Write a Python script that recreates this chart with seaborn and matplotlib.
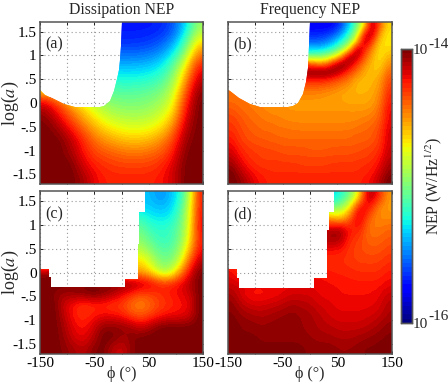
import numpy as np
import matplotlib
matplotlib.use("Agg")
import matplotlib.pyplot as plt
from matplotlib.path import Path
import seaborn as sns

sns.set_theme(style="ticks")
plt.rcParams['font.family'] = ['Liberation Serif', 'DejaVu Serif']
plt.rcParams['mathtext.fontset'] = 'stix'

# Readings: position on the colour scale, in percent (0 = 1e-16, 100 = 1e-14 W/Hz^1/2)
# rows run from high log(a) to low log(a); columns run from phi -150 to 150
panel_a = [
 [15,15,15,15,15,15,15,15,15,16,20,33,54],
 [17,17,17,17,17,17,17,17,18,20,26,42,66],
 [23,23,23,23,23,23,23,23,24,27,35,52,78],
 [31,31,31,31,31,31,31,31,32,35,45,64,88],
 [40,40,40,40,40,39,38,38,39,42,51,72,94],
 [70,62,55,48,46,45,45,45,46,49,57,80,98],
 [92,82,72,64,56,52,50,50,51,54,62,86,100],
 [98,90,80,71,64,58,56,55,56,60,68,90,100],
 [100,96,88,79,71,66,63,62,63,66,76,94,100],
 [100,100,94,86,78,74,71,70,71,75,83,97,100],
 [100,100,96,88,83,81,79,78,79,81,87,99,100],
 [100,100,100,91,87,85,84,84,84,86,91,100,100],
 [100,100,100,96,89,87,87,87,87,88,92,100,100],
]
panel_b = [
 [12,12,12,12,12,12,12,12,12,12,12,12,12,13,19,32,48,68,98,80,67],
 [16,16,16,16,16,16,16,16,16,16,16,16,17,20,28,40,57,90,96,72,66],
 [22,22,22,22,22,22,22,22,22,22,22,22,24,30,38,50,68,98,84,68,66],
 [33,33,33,33,33,33,33,33,33,33,33,33,36,42,52,66,98,88,76,66,68],
 [52,52,52,52,52,52,52,52,52,52,52,52,55,62,75,98,95,82,72,66,72],
 [85,85,85,85,85,85,85,85,85,85,85,80,80,92,100,95,85,76,70,68,76],
 [98,98,98,98,98,98,98,98,98,98,98,100,100,98,92,84,79,72,70,71,80],
 [88,88,88,88,88,88,88,88,88,88,88,88,87,84,81,78,72,71,71,74,83],
 [80,80,80,80,80,80,80,80,80,80,80,80,79,78,76,74,71,71,72,75,85],
 [78,78,78,78,76,76,76,76,76,76,76,76,75,74,73,72,72,72,73,77,87],
 [80,79,78,77,76,75,75,75,74,74,74,74,74,74,74,73,73,73,74,78,88],
 [82,80,79,78,77,76,76,75,75,75,75,75,75,75,75,75,75,75,76,80,90],
 [84,82,80,79,78,77,77,76,76,76,76,76,76,76,76,76,76,77,78,81,90],
 [85,83,81,80,79,79,78,78,77,77,77,77,77,77,77,77,78,79,80,83,91],
 [87,84,82,81,80,80,79,79,79,79,79,79,79,79,79,79,80,80,81,84,92],
 [89,85,83,82,82,81,81,80,80,80,80,80,80,80,80,80,81,81,82,85,92],
 [91,87,85,84,83,83,82,82,82,82,81,81,81,82,82,82,82,83,84,86,93],
 [94,89,86,85,84,84,84,83,83,83,83,83,83,83,83,83,84,84,85,88,94],
 [97,92,88,86,85,85,85,85,85,84,84,84,84,85,85,85,85,86,87,90,96],
 [100,95,91,88,87,86,86,86,86,86,86,86,86,86,86,86,86,87,88,92,98],
 [100,98,94,90,88,87,87,87,87,87,87,87,87,87,87,87,87,88,90,95,100],
]
panel_c = [
 [33,33,33,33,33,33,33,33,33,33,33,31,27,31,38,58,88],
 [33,33,33,33,33,33,33,33,33,33,33,33,31,33,42,62,88],
 [42,42,42,42,42,42,42,42,42,42,42,37,36,37,46,62,90],
 [48,48,48,48,48,48,48,48,48,48,48,42,40,42,48,64,90],
 [52,52,52,52,52,52,52,52,52,52,52,46,42,42,50,66,88],
 [58,58,58,58,58,58,58,58,58,58,58,52,46,46,54,72,90],
 [68,68,68,68,68,68,68,68,68,68,68,60,50,50,60,82,95],
 [98,100,98,90,80,75,72,72,72,72,74,68,58,58,75,90,100],
 [100,100,100,100,100,100,100,100,100,98,95,92,87,87,90,95,100],
 [100,98,96,97,98,100,98,95,90,86,82,84,86,88,90,92,100],
 [100,100,92,88,84,86,86,84,84,78,76,80,84,86,88,90,100],
 [100,100,94,88,86,88,90,90,88,84,82,85,88,90,90,92,100],
 [100,100,96,90,88,92,98,98,98,96,92,96,100,100,100,100,100],
 [100,100,97,92,90,94,100,100,96,98,100,100,100,100,100,100,100],
 [100,100,98,96,94,98,100,94,92,98,100,100,100,100,100,100,100],
]
panel_d = [
 [33,33,33,33,33,33,33,33,33,33,33,38,48,66,98,88,74],
 [50,50,50,50,50,50,50,50,50,50,50,52,64,92,90,76,74],
 [75,75,75,75,75,75,75,75,75,75,75,68,80,95,80,76,76],
 [95,95,95,95,95,95,95,95,95,95,95,98,88,88,78,78,80],
 [96,96,96,96,96,96,96,96,96,96,96,96,86,84,80,80,82],
 [88,88,88,88,88,88,88,88,88,88,88,88,85,83,82,82,84],
 [86,86,86,86,86,86,86,86,86,86,86,86,85,84,84,84,86],
 [90,82,88,88,88,88,88,88,88,88,88,87,87,86,86,86,88],
 [92,92,90,90,90,90,90,90,90,90,89,89,88,88,88,88,90],
 [96,90,88,88,89,90,92,92,92,90,90,89,89,89,89,90,93],
 [98,94,92,92,93,94,96,95,94,92,91,90,90,90,90,91,95],
 [99,97,96,95,96,97,98,97,96,94,92,91,91,91,92,93,96],
 [100,98,98,97,98,98,98,97,96,95,94,93,93,93,94,96,98],
 [100,99,99,98,98,98,98,98,97,96,96,95,95,96,97,98,99],
 [100,100,100,99,99,99,99,99,98,98,98,97,97,98,99,99,100],
]

# Edge of the unmeasured (white) region of each panel, read as (phi, log a)
edge_a = [(0,1.7),(-1,1.2),(-3,.9),(-5,.7),(-8,.5),(-14,.25),(-22,.05),(-32,-.06),(-40,-.08),
          (-85,-.08),(-105,-.03),(-125,.08),(-140,.16),(-150,.27)]
edge_b = [(0,1.7),(-1,1.2),(-3,.74),(-7,.45),(-12,.18),(-22,.0),(-32,-.07),(-40,-.09),
          (-91,-.09),(-110,-.03),(-130,.1),(-146,.25),(-150,.28)]
edge_c = [(43,1.7),(43,1.27),(33,1.27),(33,.6),(30,.6),(30,-.13),(6,-.13),(6,-.31),
          (-130,-.31),(-130,-.1),(-133,-.1),(-133,.08),(-150,.08)]
edge_d = [(43,1.7),(43,1.27),(35,1.27),(35,.89),(32,.89),(32,-.12),(7,-.12),(7,-.33),
          (-130,-.33),(-130,-.12),(-133,-.12),(-133,.07),(-150,.07)]

panel_names = ['(a)', '(b)', '(c)', '(d)']
titles = ['Dissipation NEP', 'Frequency NEP']
phi_ticks = [-150, -100, -50, 0, 50, 100, 150]
phi_labels = ['-150', '', '-50', '', '50', '', '150']
loga_ticks = [1.5, 1, .5, 0, -.5, -1, -1.5]
loga_labels = ['1.5', '1', '.5', '0', '-.5', '-1', '-1.5']
PHI = (-150, 150)
LOGA = (-1.7, 1.7)

W, H = 448, 386
fig = plt.figure(figsize=(W/100, H/100), dpi=100, facecolor='white')
def px_axes(x0, y0, x1, y1):
    return fig.add_axes([x0/W, 1-y1/H, (x1-x0)/W, (y1-y0)/H])

boxes = [(40,22,203,184), (228,22,392,184), (40,191,203,354), (228,191,392,354)]
cax = px_axes(401, 49, 412, 323)
jet = matplotlib.colormaps['jet'].resampled(64)
GREY = '#555555'

for i, (vals, edge, box) in enumerate(zip([panel_a, panel_b, panel_c, panel_d],
                                          [edge_a, edge_b, edge_c, edge_d], boxes)):
    ax = px_axes(*box)
    arr = -16 + 2*np.array(vals, dtype=float)/100
    ny, nx = arr.shape
    sx = lambda p: (np.asarray(p, float)-PHI[0])/(PHI[1]-PHI[0])*nx
    sy = lambda a: (LOGA[1]-np.asarray(a, float))/(LOGA[1]-LOGA[0])*ny
    sns.heatmap(arr, ax=ax, cmap=jet, vmin=-16, vmax=-14, cbar=(i == 0),
                cbar_ax=cax if i == 0 else None, xticklabels=False, yticklabels=False)
    img = ax.imshow(arr, cmap=jet, vmin=-16, vmax=-14, extent=(0, nx, ny, 0), aspect='auto',
                    interpolation='bicubic', interpolation_stage='data', zorder=2)
    ax.set_xlim(0, nx); ax.set_ylim(ny, 0)
    outline = list(edge) + [(PHI[0], LOGA[0]), (PHI[1], LOGA[0]), (PHI[1], LOGA[1]), edge[0]]
    p = Path(np.column_stack([sx([o[0] for o in outline]), sy([o[1] for o in outline])]), closed=True)
    img.set_clip_path(p, transform=ax.transData)
    ax.collections[0].set_clip_path(p, transform=ax.transData)

    ax.set_axisbelow(True)
    ax.set_xticks(sx(phi_ticks)); ax.set_yticks(sy(loga_ticks))
    ax.set_xticklabels(phi_labels if i >= 2 else [''] * 7, fontsize=11)
    ax.set_yticklabels(loga_labels if i % 2 == 0 else [''] * 7, fontsize=11, rotation=0)
    ax.tick_params(direction='in', length=2.5, width=0.7, top=True, right=True, bottom=True, left=True,
                   color='#222222', pad=2.5, labelcolor='black')
    ax.grid(True, linestyle=(0, (1, 2.5)), linewidth=0.8, color='#999999')
    for s in ax.spines.values():
        s.set_visible(True); s.set_color(GREY); s.set_linewidth(1.1); s.set_zorder(5)
    ax.text(sx(-141), sy(1.22), panel_names[i], fontsize=11.5, ha='left', va='center', zorder=6)
    if i < 2:
        ax.set_title(titles[i], fontsize=11.3, pad=6)
    if i % 2 == 0:
        ax.set_ylabel(r'log($\mathit{a}$)', fontsize=13)
        ax.yaxis.set_label_coords((21-box[0])/(box[2]-box[0]), 0.5)
    if i >= 2:
        ax.set_xlabel('ϕ (°)', fontsize=11.5)
        ax.xaxis.set_label_coords(0.5, -(366-box[3])/(box[3]-box[1]))

major = [-16, -15, -14]
minor = [d + np.log10(k) for d in (-16, -15) for k in range(2, 10)]
cax.set_yticks(sorted(major + minor))
cax.set_yticklabels([])
cax.tick_params(axis='y', direction='in', length=2.5, width=0.7, left=True, right=True, color='#222222')
cax.tick_params(axis='x', length=0)
for s in cax.spines.values():
    s.set_visible(True); s.set_color(GREY); s.set_linewidth(1.0)
fig.text(413/W, 1-51/H, '10', fontsize=11, ha='left', va='center')
fig.text(428/W, 1-44/H, '-14', fontsize=11, ha='left', va='center')
fig.text(413/W, 1-324/H, '10', fontsize=11, ha='left', va='center')
fig.text(428/W, 1-316/H, '-16', fontsize=11, ha='left', va='center')
fig.text(434/W, 1-186/H, 'NEP (W/Hz$^{1/2}$)', fontsize=11.3, rotation=90, ha='center', va='center')

fig.savefig('out.png', dpi=100)
